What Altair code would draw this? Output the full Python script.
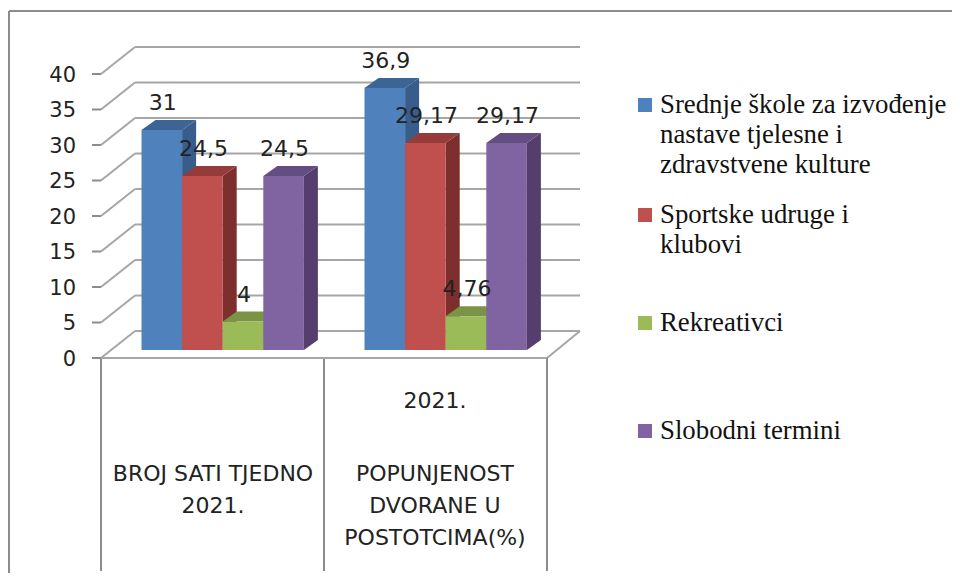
import altair as alt
import pandas as pd

# ---- data ----
categories = ["BROJ SATI TJEDNO 2021.", "POPUNJENOST DVORANE U POSTOTCIMA(%) 2021."]
series = ["Srednje škole", "Sportske udruge", "Rekreativci", "Slobodni termini"]
values_srednje = [31, 36.9]
values_sportske = [24.5, 29.17]
values_rekreativci = [4, 4.76]
values_slobodni = [24.5, 29.17]
value_labels = [["31", "36,9"], ["24,5", "29,17"], ["4", "4,76"], ["24,5", "29,17"]]
y_ticks = [0, 5, 10, 15, 20, 25, 30, 35, 40]
front_colors = ["#4f81bd", "#c0504d", "#9bbb59", "#8064a2"]
side_colors = ["#385d8a", "#7c2f2d", "#66803a", "#553e6e"]
top_colors = ["#3c6494", "#953b39", "#7a9344", "#644d80"]
legend_lines = [
    ["Srednje škole za izvođenje", "nastave tjelesne i", "zdravstvene kulture"],
    ["Sportske udruge i", "klubovi"],
    ["Rekreativci"],
    ["Slobodni termini"],
]
axis_labels = [
    (["BROJ SATI TJEDNO", "2021."], 474),
    (["2021."], 401),
    (["POPUNJENOST", "DVORANE U", "POSTOTCIMA(%)"], 474),
]

# ---- layout (picture pixels) ----
W, H = 944, 565
PX = 7.1                 # pixels per value unit
Y0 = 358                 # y of value 0 on the front plane
DX, DY = 34, 27          # wall depth
BAR_DX, BAR_DY = 14, 10  # bar depth
BASE = 8                 # bars stand this far behind the front plane
X_LEFT, X_MID, X_RIGHT = 101, 324, 547
GROUP_LEFT = [141.5, 364.5]
BAR_W = 40.6
GRID = "#a6a6a6"
FONT = "DejaVu Sans"

all_values = [values_srednje, values_sportske, values_rekreativci, values_slobodni]
u = lambda pixels: pixels / PX                 # px height -> value units
y_dom = [(Y0 - (H + 8)) / PX, (Y0 - 8) / PX]
x_scale = alt.Scale(domain=[8, W + 8], range=[0, W], nice=False, zero=False)
y_scale = alt.Scale(domain=y_dom, range=[H, 0], nice=False, zero=False)
X = lambda f: alt.X(f, type="quantitative", scale=x_scale, axis=None)
Y = lambda f: alt.Y(f, type="quantitative", scale=y_scale, axis=None, stack=None)
color_scale = alt.Scale(
    domain=[f"{s}|{k}" for k in ("front", "side", "top") for s in series],
    range=front_colors + side_colors + top_colors,
)
C = alt.Color("key:N", scale=color_scale, legend=None)

layers = []

# frame
frame = pd.DataFrame({"x": [9, 9], "x2": [W + 8, 9], "y": [u(Y0 - 11)] * 2, "y2": [u(Y0 - 11), y_dom[0]]})
layers.append(alt.Chart(frame).mark_rule(color="#8c8c8c", strokeWidth=2).encode(
    x=X("x"), x2="x2", y=Y("y"), y2="y2"))

# walls and gridlines
grid_back = pd.DataFrame({"v": y_ticks})
grid_back["x"] = X_LEFT + DX
grid_back["x2"] = 580
grid_back["y"] = grid_back["v"] + u(DY)
layers.append(alt.Chart(grid_back).mark_rule(color=GRID, strokeWidth=2).encode(
    x=X("x"), x2="x2", y=Y("y"), y2="y"))
grid_side = pd.DataFrame({"v": y_ticks})
grid_side["x"] = X_LEFT
grid_side["x2"] = X_LEFT + DX
grid_side["y"] = grid_side["v"]
grid_side["y2"] = grid_side["v"] + u(DY)
floor_edge = pd.DataFrame({"x": [X_RIGHT], "x2": [X_RIGHT + DX - 1], "y": [0.0], "y2": [u(DY)]})
for d in (grid_side, floor_edge):
    layers.append(alt.Chart(d).mark_rule(color=GRID, strokeWidth=2).encode(
        x=X("x"), x2="x2", y=Y("y"), y2="y2"))

# front floor edge, category separators
sep = pd.DataFrame({"x": [X_LEFT, X_MID, X_RIGHT]})
sep["y"] = 0.0
sep["y2"] = u(Y0 - 571)
layers.append(alt.Chart(sep).mark_rule(color="#8c8c8c", strokeWidth=2).encode(
    x=X("x"), y=Y("y"), y2="y2"))
front = pd.DataFrame({"x": [X_LEFT], "x2": [X_RIGHT], "y": [0.0]})
layers.append(alt.Chart(front).mark_rule(color=GRID, strokeWidth=2).encode(
    x=X("x"), x2="x2", y=Y("y"), y2="y"))
ticks = pd.DataFrame({"v": y_ticks})
ticks["x"] = X_LEFT - 9
ticks["x2"] = X_LEFT
layers.append(alt.Chart(ticks).mark_rule(color="#8c8c8c", strokeWidth=2).encode(
    x=X("x"), x2="x2", y=Y("v"), y2="v"))
tick_text = pd.DataFrame({"v": y_ticks, "x": [76] * len(y_ticks)})
layers.append(alt.Chart(tick_text).mark_text(align="right", baseline="middle", dy=1.5, font=FONT, fontSize=21, color="#222222").encode(
    x=X("x"), y=Y("v"), text="v:Q"))

# bars
b = u(BASE)
dy = u(BAR_DY)
for si, s in enumerate(series):
    side, top, rect = [], [], []
    for gi, left in enumerate(GROUP_LEFT):
        x0 = left + si * BAR_W
        x1 = x0 + BAR_W
        v = all_values[si][gi] + b
        bid = f"{si}-{gi}"
        side += [
            dict(key=f"{s}|side", bar=bid, x=x1, y=v, y2=b),
            dict(key=f"{s}|side", bar=bid, x=x1 + BAR_DX, y=v + dy, y2=b + dy),
        ]
        top += [
            dict(key=f"{s}|top", bar=bid, x=x0, y=v, y2=v),
            dict(key=f"{s}|top", bar=bid, x=x0 + BAR_DX, y=v + dy, y2=v),
            dict(key=f"{s}|top", bar=bid, x=x1, y=v + dy, y2=v),
            dict(key=f"{s}|top", bar=bid, x=x1 + BAR_DX, y=v + dy, y2=v + dy),
        ]
        rect.append(dict(key=f"{s}|front", x=x0, x2=x1, y=v, y2=b))
    for rows in (side, top):
        layers.append(alt.Chart(pd.DataFrame(rows)).mark_area(interpolate="linear", opacity=1, orient="vertical").encode(
            x=X("x"), y=Y("y"), y2="y2", color=C, detail="bar:N"))
    layers.append(alt.Chart(pd.DataFrame(rect)).mark_rect(opacity=1).encode(
        x=X("x"), x2="x2", y=Y("y"), y2="y2", color=C))

# value labels
rows = []
for si in range(4):
    for gi, left in enumerate(GROUP_LEFT):
        rows.append(dict(
            x=left + si * BAR_W + BAR_W / 2 + 1,
            y=all_values[si][gi] + b + u(27),
            t=value_labels[si][gi],
        ))
layers.append(alt.Chart(pd.DataFrame(rows)).mark_text(align="center", baseline="middle", font=FONT, fontSize=22, color="#222222").encode(
    x=X("x"), y=Y("y"), text="t:N"))

# category labels
rows = []
for (lines, y_px), cx in zip(axis_labels, [213, 435, 435]):
    for i, line in enumerate(lines):
        rows.append(dict(x=cx, y=u(Y0 - (y_px + i * 32)), t=line))
layers.append(alt.Chart(pd.DataFrame(rows)).mark_text(align="center", baseline="middle", font=FONT, fontSize=22, color="#222222").encode(
    x=X("x"), y=Y("y"), text="t:N"))

# legend
legend_y = [105, 215, 323, 431]
sw = pd.DataFrame({
    "key": [f"{s}|front" for s in series],
    "x": [638] * 4, "x2": [652] * 4,
    "y": [u(Y0 - (y - 7)) for y in legend_y],
    "y2": [u(Y0 - (y + 7)) for y in legend_y],
})
layers.append(alt.Chart(sw).mark_rect(opacity=1).encode(
    x=X("x"), x2="x2", y=Y("y"), y2="y2", color=C))
rows = []
for lines, y_px in zip(legend_lines, legend_y):
    for i, line in enumerate(lines):
        rows.append(dict(x=660, y=u(Y0 - (y_px + i * 30)), t=line))
layers.append(alt.Chart(pd.DataFrame(rows)).mark_text(align="left", baseline="middle", font="Liberation Serif", fontSize=26.8, color="#111111").encode(
    x=X("x"), y=Y("y"), text="t:N"))

chart = alt.layer(*layers).properties(
    width=W, height=H, padding=0, autosize=alt.AutoSizeParams(type="none"), background="#ffffff"
).configure_view(stroke=None)

chart.save("out.html", embed_options={"renderer": "svg", "actions": False})
